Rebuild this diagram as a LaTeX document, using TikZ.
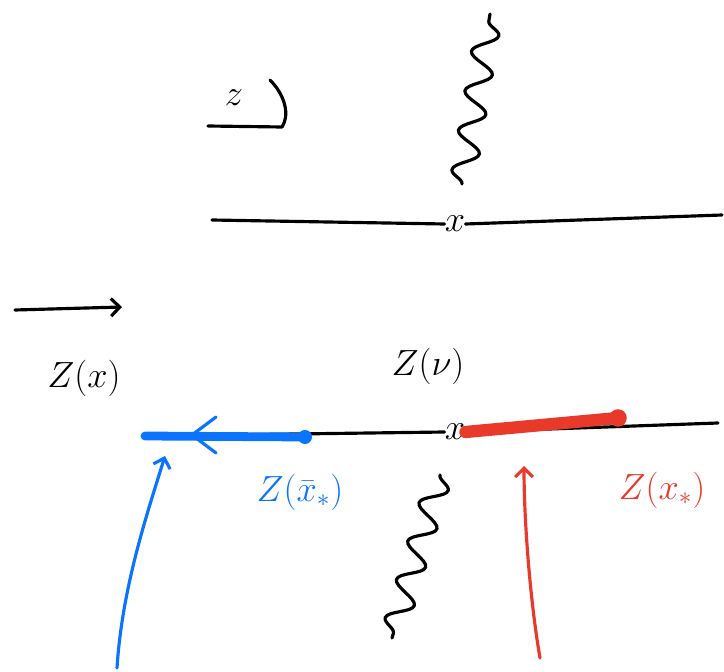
\documentclass[tikz,border=0pt]{standalone}
\usepackage{amsmath,amssymb}
\usetikzlibrary{positioning,arrows.meta,decorations.pathmorphing}
\definecolor{penblue}{RGB}{10,116,255}
\definecolor{penred}{RGB}{232,57,43}

\begin{document}
\begin{tikzpicture}[x=0.02cm,y=-0.02cm,>={Straight Barb[length=5pt,width=10pt]},line cap=round,line join=round,
    ink/.style={line width=1.8pt},
    thick ink/.style={line width=5pt},
    cut/.style={ink,decorate,decoration={snake,amplitude=7pt,segment length=0.8cm}},
    lbl/.style={font=\huge,inner sep=1pt},
    cross/.style={font=\huge,inner sep=0pt}]
    \useasboundingbox (0,0) rectangle (724,672);
    % upper plane
    \node[lbl] (zsym) at (234,98) {$z$};
    \draw[ink] (208,126) -- (282,127) .. controls (290,115) and (285,95) .. (270,80);
    \node[cross] (xtop) at (455,224) {$x$};
    \coordinate (ltop) at (212,220);
    \coordinate (rtop) at (722,215);
    \draw[ink] (ltop) -- (xtop.west);
    \draw[ink] (xtop.east) -- (rtop);
    \coordinate (cuttop) at (490,14);
    \draw[cut] (462,184) -- (cuttop);
    % map
    \coordinate (mapa) at (15,310);
    \coordinate (mapb) at (122,307);
    \draw[ink,->] (mapa) -- (mapb);
    \node[lbl] (zx) at (84,378) {$Z(x)$};
    % lower plane
    \node[lbl] (znu) at (428,366) {$Z(\nu)$};
    \node[cross] (xbot) at (455,432) {$x$};
    \coordinate (lbot) at (145,436);
    \coordinate (rbot) at (718,423);
    \draw[ink] (lbot) -- (xbot.west);
    \draw[ink] (xbot.east) -- (rbot);
    \coordinate (cutbot) at (392,638);
    \draw[cut] (440,475) -- (cutbot);
    % conjugate thimble
    \coordinate (bdot) at (305,437);
    \draw[penblue,thick ink] (bdot) -- (lbot);
    \fill[penblue] (bdot) circle (4pt);
    \draw[penblue,ink] (216,417) -- (192,435) -- (216,453);
    \node[lbl,penblue] (zxbar) at (300,492) {$Z(\bar{x}_*)$};
    \coordinate (bfoot) at (117,668);
    \coordinate (bhead) at (165,456);
    \draw[penblue,ink,->] (bfoot) .. controls (122,590) and (145,520) .. (bhead);
    % thimble
    \coordinate (rdot) at (618,418);
    \draw[penred,line width=7pt] (xbot.east) -- (rdot);
    \fill[penred] (rdot) circle (5pt);
    \node[lbl,penred] (zxs) at (662,490) {$Z(x_*)$};
    \coordinate (rfoot) at (540,658);
    \coordinate (rhead) at (524,466);
    \draw[penred,ink,->] (rfoot) .. controls (530,600) and (524,520) .. (rhead);
\end{tikzpicture}
\end{document}
